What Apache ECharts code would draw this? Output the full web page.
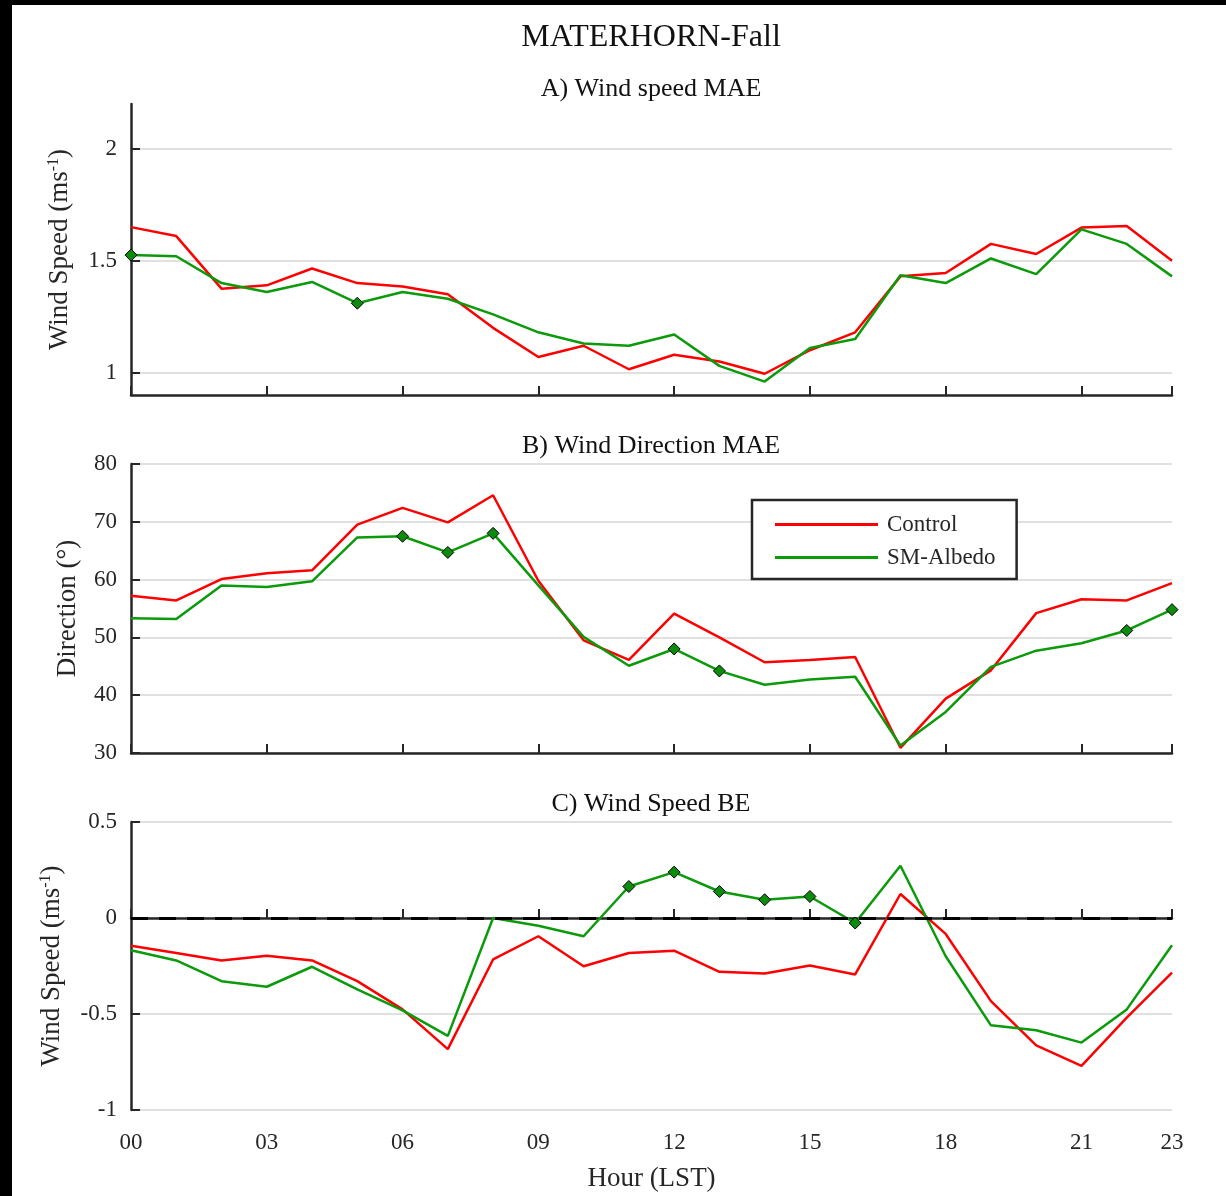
<!DOCTYPE html>
<html>
<head>
<meta charset="utf-8">
<script src="https://cdn.jsdelivr.net/npm/echarts@6/dist/echarts.min.js"></script>
<style>
  html, body { margin: 0; padding: 0; background: #000; }
  #chart { position: absolute; left: 12px; top: 5px; width: 1214px; height: 1191px; background: #fff; }
</style>
</head>
<body>
<div id="chart"></div>
<script>
const hours = ['00','01','02','03','04','05','06','07','08','09','10','11',
               '12','13','14','15','16','17','18','19','20','21','22','23'];

// A) wind speed MAE
const speedCtrl = [1.65, 1.61, 1.375, 1.39, 1.465, 1.40, 1.385, 1.35, 1.20, 1.07, 1.12, 1.015,
                   1.08, 1.05, 0.995, 1.10, 1.18, 1.43, 1.445, 1.575, 1.53, 1.648, 1.655, 1.50];
const speedAlb  = [1.525, 1.52, 1.40, 1.36, 1.405, 1.31, 1.36, 1.33, 1.26, 1.18, 1.13, 1.12,
                   1.17, 1.03, 0.96, 1.11, 1.15, 1.435, 1.40, 1.51, 1.44, 1.64, 1.575, 1.43];
// B) wind direction MAE
const dirCtrl = [57.2, 56.4, 60.1, 61.1, 61.6, 69.5, 72.4, 69.9, 74.6, 59.8, 49.5, 46.1,
                 54.1, 50.0, 45.7, 46.1, 46.6, 30.9, 39.4, 44.3, 54.2, 56.6, 56.4, 59.4];
const dirAlb  = [53.3, 53.2, 59.0, 58.7, 59.7, 67.3, 67.5, 64.7, 68.0, 59.0, 50.1, 45.1,
                 48.0, 44.2, 41.8, 42.7, 43.2, 31.3, 37.1, 44.9, 47.7, 49.0, 51.2, 54.8];
// C) wind speed BE
const biasCtrl = [-0.144, -0.182, -0.221, -0.196, -0.221, -0.329, -0.476, -0.683, -0.216, -0.095, -0.251, -0.182,
                  -0.170, -0.280, -0.289, -0.247, -0.294, 0.125, -0.083, -0.433, -0.663, -0.770, -0.519, -0.285];
const biasAlb  = [-0.168, -0.221, -0.329, -0.358, -0.254, -0.372, -0.481, -0.614, 0.0, -0.04, -0.095, 0.164,
                  0.239, 0.138, 0.095, 0.112, -0.026, 0.272, -0.199, -0.559, -0.585, -0.649, -0.476, -0.142];

// hours where SM-Albedo is marked
const markA = [0, 5];
const markB = [6, 7, 8, 12, 13, 22, 23];
const markC = [11, 12, 13, 14, 15, 16];

// y tick labels
const ticksA = [1, 1.5, 2];

const FONT = 'Liberation Serif';
const RED = '#ff0000';
const GREEN = '#0a9a0a';
const INK = '#262626';

function marked (values, marks) {
  return values.map((v, i) => marks.includes(i)
    ? { value: v, symbol: 'diamond', symbolSize: 12 }
    : v);
}

function xAxisFor (idx, showLabels) {
  return {
    type: 'category',
    gridIndex: idx,
    data: hours,
    boundaryGap: false,
    axisLine: { lineStyle: { color: INK, width: 2.5 } },
    axisTick: {
      inside: true, length: 9,
      interval: (i) => i % 3 === 0 || i === 23,
      lineStyle: { color: INK, width: 2 }
    },
    axisLabel: {
      show: showLabels,
      interval: (i) => i % 3 === 0 || i === 23,
      margin: 21,
      color: INK, fontFamily: FONT, fontSize: 23
    },
    splitLine: { show: false },
    name: showLabels ? 'Hour (LST)' : '',
    nameLocation: 'middle',
    nameGap: 55,
    nameTextStyle: { color: INK, fontFamily: FONT, fontSize: 27 }
  };
}

function yAxisFor (idx, extra) {
  return Object.assign({
    type: 'value',
    gridIndex: idx,
    nameLocation: 'middle',
    nameRotate: 90,
    nameTextStyle: {
      color: INK, fontFamily: FONT, fontSize: 27,
      rich: { sup: { fontFamily: FONT, fontSize: 16, color: INK, verticalAlign: 'top', padding: [0, 0, 10, 0] } }
    },
    axisLine: { show: true, lineStyle: { color: INK, width: 2.5 } },
    axisTick: { show: true, inside: true, length: 9, lineStyle: { color: INK, width: 2 } },
    axisLabel: { margin: 14, color: INK, fontFamily: FONT, fontSize: 23 },
    splitLine: { show: true, lineStyle: { color: '#e0e0e0', width: 2 } }
  }, extra);
}

function lineSeries (name, color, idx, data, z) {
  return {
    name: name,
    type: 'line',
    xAxisIndex: idx,
    yAxisIndex: idx,
    data: data,
    symbol: 'none',
    showSymbol: true,
    color: color,
    lineStyle: { color: color, width: 2.5 },
    itemStyle: { color: color === GREEN ? '#0c8c0c' : color, borderColor: '#000', borderWidth: 1 },
    animation: false,
    z: z
  };
}

const chart = echarts.init(document.getElementById('chart'));

const option = {
  backgroundColor: '#fff',
  animation: false,
  title: [
    { text: 'MATERHORN-Fall', left: 639, top: 17, textAlign: 'center', padding: 0,
      textStyle: { fontFamily: FONT, fontSize: 32, fontWeight: 'normal', color: '#111' } },
    { text: 'A) Wind speed MAE', left: 639, top: 71, textAlign: 'center', padding: 0,
      textStyle: { fontFamily: FONT, fontSize: 26, fontWeight: 'normal', color: '#111' } },
    { text: 'B) Wind Direction MAE', left: 639, top: 428, textAlign: 'center', padding: 0,
      textStyle: { fontFamily: FONT, fontSize: 26, fontWeight: 'normal', color: '#111' } },
    { text: 'C) Wind Speed BE', left: 639, top: 786, textAlign: 'center', padding: 0,
      textStyle: { fontFamily: FONT, fontSize: 26, fontWeight: 'normal', color: '#111' } }
  ],
  legend: {
    orient: 'vertical',
    left: 740,
    top: 495,
    data: [
      { name: 'Control', icon: 'rect', itemStyle: { color: RED, borderWidth: 0 } },
      { name: 'SM-Albedo', icon: 'rect', itemStyle: { color: GREEN, borderWidth: 0 } }
    ],
    itemWidth: 103,
    itemHeight: 3,
    itemGap: 10,
    padding: [13, 21, 10, 23],
    backgroundColor: '#fff',
    borderColor: INK,
    borderWidth: 2.5,
    borderRadius: 0,
    selectedMode: false,
    textStyle: { fontFamily: FONT, fontSize: 23, color: INK, padding: [0, 0, 0, 4] }
  },
  grid: [
    { left: 119, width: 1041, top: 99, height: 291 },
    { left: 119, width: 1041, top: 459, height: 289 },
    { left: 119, width: 1041, top: 817, height: 288 }
  ],
  xAxis: [xAxisFor(0, false), xAxisFor(1, false), xAxisFor(2, true)],
  yAxis: [
    yAxisFor(0, {
      min: 0.9, max: 2.2,
      name: 'Wind Speed (ms{sup|-1})', nameGap: 58,
      axisTick: { show: true, inside: true, length: 9, customValues: ticksA, lineStyle: { color: INK, width: 2 } },
      axisLabel: { margin: 14, color: INK, fontFamily: FONT, fontSize: 23, customValues: ticksA }
    }),
    yAxisFor(1, { min: 30, max: 80, interval: 10, name: 'Direction (°)', nameGap: 50 }),
    yAxisFor(2, { min: -1, max: 0.5, interval: 0.5, name: 'Wind Speed (ms{sup|-1})', nameGap: 66 })
  ],
  series: [
    lineSeries('Control', RED, 0, speedCtrl, 3),
    lineSeries('SM-Albedo', GREEN, 0, marked(speedAlb, markA), 4),
    lineSeries('Control', RED, 1, dirCtrl, 3),
    lineSeries('SM-Albedo', GREEN, 1, marked(dirAlb, markB), 4),
    Object.assign(lineSeries('Control', RED, 2, biasCtrl, 3), {
      markLine: {
        silent: true,
        symbol: 'none',
        label: { show: false },
        lineStyle: { color: '#000', width: 3, type: [17, 11] },
        data: [{ yAxis: 0 }]
      }
    }),
    lineSeries('SM-Albedo', GREEN, 2, marked(biasAlb, markC), 4)
  ]
};

chart.setOption(option);
</script>
</body>
</html>
